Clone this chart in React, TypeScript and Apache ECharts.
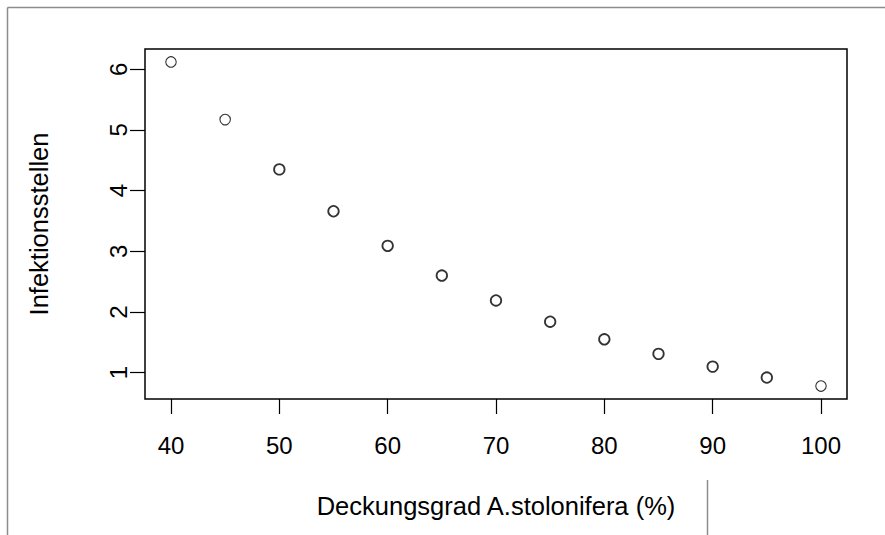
import React, { useEffect, useRef } from "react";
import * as echarts from "echarts";

const xValues = [40, 45, 50, 55, 60, 65, 70, 75, 80, 85, 90, 95, 100];
const yValues = [6.12, 5.17, 4.35, 3.66, 3.09, 2.6, 2.19, 1.84, 1.55, 1.31, 1.1, 0.92, 0.78];
const xTicks = [40, 50, 60, 70, 80, 90, 100];
const yTicks = [1, 2, 3, 4, 5, 6];
const xTitle = "Deckungsgrad A.stolonifera (%)";
const yTitle = "Infektionsstellen";

const FONT = "'Liberation Sans', Arial, Helvetica, sans-serif";

function padRange(vals: number[]) {
  const lo = Math.min(...vals);
  const hi = Math.max(...vals);
  const d = (hi - lo) * 0.04;
  return [lo - d, hi + d];
}

export default function App() {
  const ref = useRef<HTMLDivElement>(null);
  useEffect(() => {
    if (!ref.current) return;
    const chart = echarts.init(ref.current, undefined, { renderer: "svg" });
    const [xmin, xmax] = padRange(xValues);
    const [ymin, ymax] = padRange(yValues);
    const data = xValues.map((x, i) => ({
      value: [x, yValues[i]],
      itemStyle: { borderWidth: i >= 2 && i <= 11 ? 1.8 : 1.1 },
    }));
    chart.setOption({
      animation: false,
      backgroundColor: "#fff",
      textStyle: { fontFamily: FONT },
      grid: {
        left: 145,
        top: 49,
        right: 38,
        bottom: 136,
        show: true,
        borderColor: "#000",
        borderWidth: 1.5,
        backgroundColor: "transparent",
      },
      xAxis: {
        type: "value",
        min: xmin,
        max: xmax,
        name: xTitle,
        nameLocation: "middle",
        nameGap: 94,
        nameTextStyle: { fontSize: 25.5, color: "#000", fontFamily: FONT },
        axisLine: { show: false },
        splitLine: { show: false },
        axisTick: {
          show: true,
          length: 15,
          lineStyle: { color: "#000", width: 1.2 },
          customValues: xTicks,
        },
        axisLabel: {
          fontSize: 24,
          color: "#000",
          fontFamily: FONT,
          margin: 34,
          customValues: xTicks,
        },
      },
      yAxis: {
        type: "value",
        min: ymin,
        max: ymax,
        name: yTitle,
        nameLocation: "middle",
        nameRotate: 90,
        nameGap: 93,
        nameTextStyle: { fontSize: 25.5, color: "#000", fontFamily: FONT },
        axisLine: { show: false },
        splitLine: { show: false },
        axisTick: {
          show: true,
          length: 15,
          lineStyle: { color: "#000", width: 1.2 },
          customValues: yTicks,
        },
        axisLabel: {
          fontSize: 24,
          color: "#000",
          fontFamily: FONT,
          rotate: 90,
          margin: 15,
          customValues: yTicks,
        },
      },
      graphic: [
        {
          type: "line",
          shape: { x1: 7.5, y1: 7.5, x2: 885, y2: 7.5 },
          style: { stroke: "#8c8c8c", lineWidth: 1.5 },
        },
        {
          type: "line",
          shape: { x1: 7.5, y1: 7.5, x2: 7.5, y2: 535 },
          style: { stroke: "#8c8c8c", lineWidth: 1.5 },
        },
        {
          type: "line",
          shape: { x1: 707.5, y1: 480, x2: 707.5, y2: 535 },
          style: { stroke: "#8c8c8c", lineWidth: 1.5 },
        },
      ],
      series: [
        {
          type: "scatter",
          symbol: "circle",
          symbolSize: 10.5,
          itemStyle: { color: "#fff", borderColor: "#000" },
          data,
        },
      ],
    });
    return () => chart.dispose();
  }, []);
  return (
    <div
      ref={ref}
      style={{ position: "fixed", left: 0, top: 0, width: 885, height: 535 }}
    />
  );
}
